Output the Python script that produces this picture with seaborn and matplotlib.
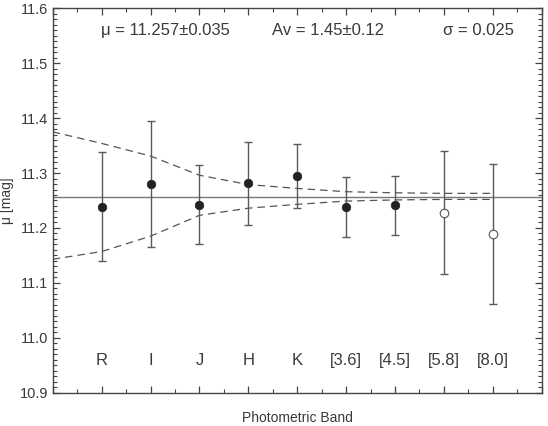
import seaborn as sns
import matplotlib.pyplot as plt
import pandas as pd
from matplotlib.ticker import MultipleLocator, FormatStrFormatter

# band data
bands = ["R", "I", "J", "H", "K", "[3.6]", "[4.5]", "[5.8]", "[8.0]"]
band_pos = [1, 2, 3, 4, 5, 6, 7, 8, 9]
mu = [11.239, 11.280, 11.242, 11.281, 11.295, 11.238, 11.241, 11.228, 11.189]
mu_err = [0.099, 0.115, 0.072, 0.076, 0.058, 0.055, 0.054, 0.112, 0.127]
used = [True, True, True, True, True, True, True, False, False]

mu_mean = 11.257

# dashed envelope
env_x = [0, 1, 2, 3, 4, 5, 6, 7, 8, 9]
env_upper = [11.375, 11.354, 11.331, 11.296, 11.279, 11.272, 11.266, 11.264, 11.263, 11.263]
env_lower = [11.143, 11.157, 11.185, 11.223, 11.236, 11.243, 11.249, 11.251, 11.252, 11.252]

sns.set_style("ticks")
plt.rcParams['font.family'] = ['Liberation Sans', 'DejaVu Sans']
txt = '#3a3a3a'
plt.rcParams['text.color'] = txt
plt.rcParams['axes.labelcolor'] = txt
plt.rcParams['xtick.color'] = txt
plt.rcParams['ytick.color'] = txt

df = pd.DataFrame({"band": bands, "pos": band_pos, "mu": mu, "err": mu_err, "used": used})
env = pd.DataFrame({"x": env_x * 2, "y": env_upper + env_lower,
                    "side": ["upper"] * len(env_x) + ["lower"] * len(env_x)})

fig = plt.figure(figsize=(5.48, 4.26), dpi=100)
ax = fig.add_axes([0.0962, 0.0782, 0.8923, 0.9023])

ax.axhline(mu_mean, color="#777777", lw=1.0, zorder=1)
sns.lineplot(data=env, x="x", y="y", units="side", estimator=None, ax=ax,
             color="#555555", lw=0.9, dashes=False, zorder=2)
for ln in ax.lines[1:]:
    ln.set_dashes([6, 4])

ax.errorbar(df.pos, df.mu, yerr=df.err, fmt="none", ecolor="#5a5a5a",
            elinewidth=1.0, capsize=3, capthick=1.0, zorder=3)

sns.scatterplot(data=df[df.used], x="pos", y="mu", ax=ax, color="#222222",
                s=38, edgecolor="#222222", linewidth=0.5, zorder=4)
sns.scatterplot(data=df[~df.used], x="pos", y="mu", ax=ax, facecolor="white",
                s=38, edgecolor="#555555", linewidth=0.8, zorder=4)

for b, p in zip(bands, band_pos):
    ax.text(p, 10.959, b, ha="center", va="center", fontsize=12)

ax.text(2.31, 11.56, "μ = 11.257±0.035", ha="center", va="center", fontsize=12)
ax.text(5.62, 11.56, "Av = 1.45±0.12", ha="center", va="center", fontsize=12)
ax.text(8.70, 11.56, "σ = 0.025", ha="center", va="center", fontsize=12)

ax.set_xlim(0, 10)
ax.set_ylim(10.9, 11.6)
ax.xaxis.set_major_locator(MultipleLocator(1))
ax.xaxis.set_minor_locator(MultipleLocator(0.5))
ax.yaxis.set_major_locator(MultipleLocator(0.1))
ax.yaxis.set_minor_locator(MultipleLocator(0.01))
ax.yaxis.set_major_formatter(FormatStrFormatter("%.1f"))
ax.set_xticklabels([])
ax.tick_params(which="both", direction="in", top=True, right=True, color="#444444")
ax.tick_params(which="major", length=5, width=0.9, labelsize=10.5, pad=3)
ax.tick_params(which="minor", length=3, width=0.8)
for s in ax.spines.values():
    s.set_color("#444444")
    s.set_linewidth(1.0)

ax.set_xlabel("Photometric Band", fontsize=10, labelpad=10)
ax.set_ylabel("μ [mag]", fontsize=10, labelpad=4)

fig.savefig("out.png", dpi=100)
